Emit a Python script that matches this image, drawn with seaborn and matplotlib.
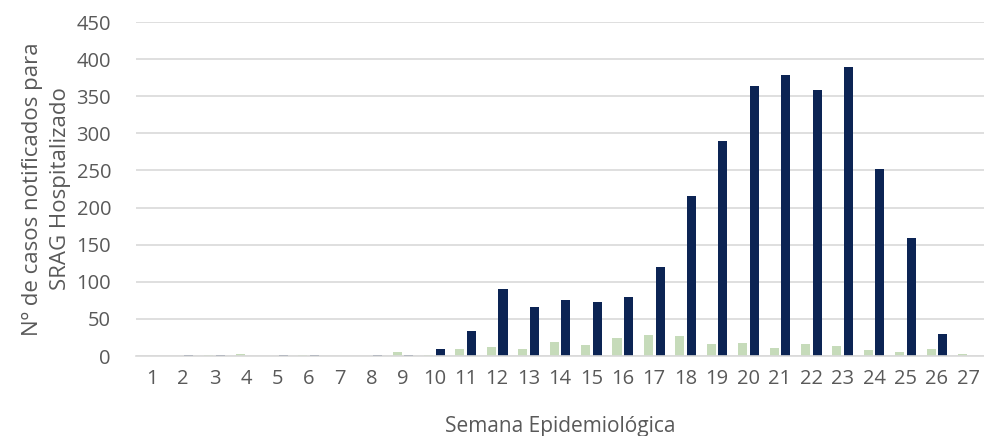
import pandas as pd
import matplotlib
matplotlib.use("Agg")
import matplotlib.pyplot as plt
import seaborn as sns

# weeks and case counts
semanas = list(range(1, 28))
serie_verde = [0, 0, 1, 3, 0, 1, 0, 0, 5, 1, 9, 12, 9, 19, 15, 24, 28, 27,
               16, 17, 11, 16, 13, 8, 5, 9, 3]
serie_azul = [0, 1, 2, 0, 2, 2, 0, 2, 1, 9, 34, 90, 66, 76, 73, 80, 120, 216,
              290, 364, 378, 358, 390, 252, 159, 30, 0]
nomes = ["Série 1", "Série 2"]
cores = ["#C5E0B4", "#002060"]
y_ticks = list(range(0, 451, 50))

df = pd.DataFrame({
    "semana": semanas * 2,
    "casos": serie_verde + serie_azul,
    "serie": [nomes[0]] * len(semanas) + [nomes[1]] * len(semanas),
})

sns.set_theme(style="white")
plt.rcParams["font.family"] = ["Open Sans", "DejaVu Sans"]

fig = plt.figure(figsize=(9.84, 4.36), dpi=100)
ax = fig.add_axes([136 / 984, 1 - 356 / 436, 848 / 984, 334 / 436])

sns.barplot(data=df, x="semana", y="casos", hue="serie", palette=cores,
            width=0.74, gap=0.22, linewidth=0, legend=False, ax=ax)

ax.set_ylim(0, 450)
ax.set_yticks(y_ticks)
ax.set_xlim(-0.5, 26.5)
ax.yaxis.grid(True, color="#D9D9D9", linewidth=1.2)
ax.set_axisbelow(True)
for s in ["top", "right", "left"]:
    ax.spines[s].set_visible(False)
ax.spines["bottom"].set_color("#D9D9D9")
ax.spines["bottom"].set_linewidth(1.2)

ax.tick_params(axis="both", length=0, labelsize=14.5, colors="#595959")
ax.tick_params(axis="x", pad=9)
ax.tick_params(axis="y", pad=18)
ax.set_xlabel("Semana Epidemiológica", fontsize=15, color="#595959", labelpad=20)
ax.set_ylabel("Nº de casos notificados para\nSRAG Hospitalizado", fontsize=16,
              color="#595959", labelpad=4, linespacing=1.45)

fig.savefig("out.png", dpi=100)
